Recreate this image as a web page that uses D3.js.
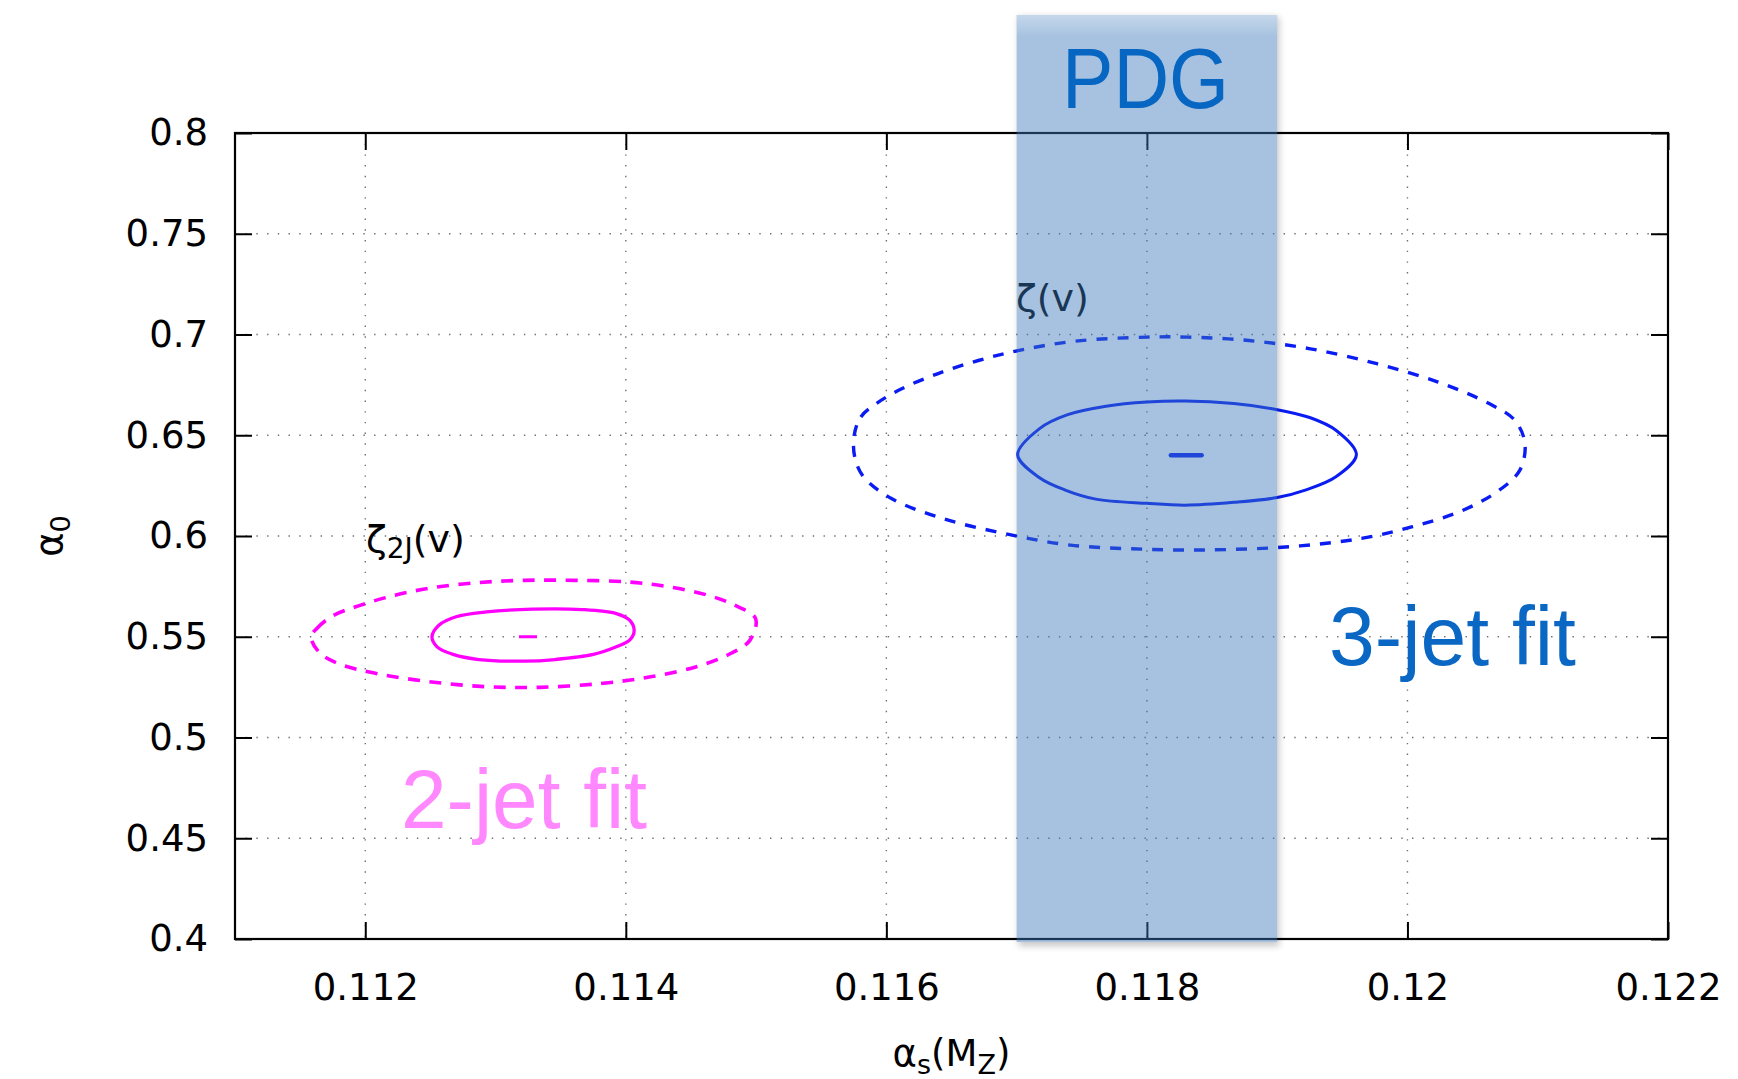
<!DOCTYPE html>
<html>
<head>
<meta charset="utf-8">
<script src="https://cdn.jsdelivr.net/npm/d3@7"></script>
<style>
  body { margin: 0; background: #fff; }
  svg { display: block; }
</style>
</head>
<body>
<svg id="chart" width="1738" height="1079"></svg>
<script>
// Axis ticks
const xTicks = [0.112, 0.114, 0.116, 0.118, 0.12, 0.122];
const yTicks = [0.4, 0.45, 0.5, 0.55, 0.6, 0.65, 0.7, 0.75, 0.8];
const xDomain = [0.111, 0.122];
const yDomain = [0.4, 0.8];

// PDG world-average band in alpha_s(M_Z)
const pdgBand = [0.117, 0.119];

// 3-jet fit, zeta(v): 1-sigma (solid) and 2-sigma (dashed) contours, [alpha_s, alpha_0]
const threeJetInner = [
  [0.117008, 0.6404], [0.117176, 0.6533], [0.117392, 0.6602], [0.117686, 0.6644],
  [0.118000, 0.6665], [0.118294, 0.6670], [0.118667, 0.6657], [0.119000, 0.6627],
  [0.119255, 0.6587], [0.119451, 0.6525], [0.119608, 0.6404], [0.119451, 0.6294],
  [0.119216, 0.6228], [0.119000, 0.6191], [0.118667, 0.6167], [0.118294, 0.6153],
  [0.118000, 0.6162], [0.117608, 0.6183], [0.117373, 0.6228], [0.117176, 0.6289]
];
const threeJetOuter = [
  [0.115753, 0.6500], [0.115804, 0.6591], [0.115922, 0.6657], [0.116118, 0.6731],
  [0.116392, 0.6805], [0.116706, 0.6871], [0.117020, 0.6921], [0.117451, 0.6967],
  [0.118000, 0.6987], [0.118314, 0.6987], [0.118784, 0.6970], [0.119255, 0.6929],
  [0.119765, 0.6855], [0.120235, 0.6764], [0.120627, 0.6657], [0.120824, 0.6574],
  [0.120902, 0.6459], [0.120863, 0.6327], [0.120706, 0.6228], [0.120431, 0.6129],
  [0.120039, 0.6046], [0.119647, 0.5988], [0.119098, 0.5947], [0.118471, 0.5931],
  [0.118000, 0.5934], [0.117412, 0.5955], [0.116902, 0.6013], [0.116431, 0.6087],
  [0.116039, 0.6186], [0.115824, 0.6294], [0.115757, 0.6393]
];
const threeJetBest = [[0.118184, 0.6401], [0.118420, 0.6401]];

// 2-jet fit, zeta_2J(v)
const twoJetInner = [
  [0.112512, 0.5500], [0.112565, 0.5557], [0.112697, 0.5599], [0.112931, 0.5623],
  [0.113283, 0.5637], [0.113663, 0.5635], [0.113927, 0.5615], [0.114029, 0.5582],
  [0.114064, 0.5529], [0.114029, 0.5483], [0.113927, 0.5450], [0.113751, 0.5412],
  [0.113458, 0.5387], [0.113224, 0.5379], [0.112873, 0.5387], [0.112668, 0.5414],
  [0.112551, 0.5450]
];
const twoJetOuter = [
  [0.111584, 0.5500], [0.111628, 0.5541], [0.111745, 0.5602], [0.111965, 0.5657],
  [0.112228, 0.5706], [0.112521, 0.5744], [0.112873, 0.5769], [0.113224, 0.5780],
  [0.113605, 0.5780], [0.114015, 0.5772], [0.114337, 0.5747], [0.114630, 0.5706],
  [0.114835, 0.5657], [0.114996, 0.5590], [0.114952, 0.5482], [0.114805, 0.5417],
  [0.114542, 0.5351], [0.114190, 0.5301], [0.113810, 0.5268], [0.113341, 0.5249],
  [0.112931, 0.5252], [0.112492, 0.5277], [0.112082, 0.5318], [0.111789, 0.5368],
  [0.111643, 0.5425]
];
const twoJetBest = [[0.113180, 0.5500], [0.113318, 0.5500]];

const W = 1738, H = 1079;
const plot = { left: 235, right: 1668, top: 133, bottom: 939 };
const TICK = 17;
const tickFont = "'DejaVu Sans', sans-serif";
const labelFont = "'Liberation Sans', Arial, sans-serif";

const svg = d3.select("#chart");
const x = d3.scaleLinear().domain(xDomain).range([plot.left, plot.right]);
const y = d3.scaleLinear().domain(yDomain).range([plot.bottom, plot.top]);

const defs = svg.append("defs");
const blur = defs.append("filter").attr("id", "soft")
  .attr("x", "-20%").attr("y", "-5%").attr("width", "140%").attr("height", "110%");
blur.append("feGaussianBlur").attr("stdDeviation", 3.5);

const bandX0 = x(pdgBand[0]), bandX1 = x(pdgBand[1]);
const bandTop = 15, bandBottom = plot.bottom + 3;

// clip so the band's shadow only shows outside the band
defs.append("clipPath").attr("id", "outsideBand")
  .append("path")
  .attr("clip-rule", "evenodd")
  .attr("d", `M0,0H${W}V${H}H0Z M${bandX0},${bandTop}H${bandX1}V${bandBottom}H${bandX0}Z`);

const sheen = defs.append("linearGradient").attr("id", "sheen")
  .attr("x1", 0).attr("y1", 0).attr("x2", 0).attr("y2", 1);
sheen.append("stop").attr("offset", "0%").attr("stop-color", "#fff").attr("stop-opacity", 0.35);
sheen.append("stop").attr("offset", "100%").attr("stop-color", "#fff").attr("stop-opacity", 0);

// dotted grid
const grid = svg.append("g").attr("stroke", "#6f6f6f").attr("stroke-width", 1.4)
  .attr("stroke-dasharray", "1.4,9.3");
grid.selectAll("line.gx")
  .data(xTicks.filter(d => d > xDomain[0] && d < xDomain[1]))
  .join("line")
  .attr("x1", d => x(d)).attr("x2", d => x(d))
  .attr("y1", y(yDomain[1])).attr("y2", y(yDomain[0]));
grid.selectAll("line.gy")
  .data(yTicks.filter(d => d > yDomain[0] && d < yDomain[1]))
  .join("line")
  .attr("y1", d => y(d)).attr("y2", d => y(d))
  .attr("x1", x(xDomain[0])).attr("x2", x(xDomain[1]));

// fit labels
svg.append("text").text("3-jet fit")
  .attr("x", 1329).attr("y", 665)
  .attr("textLength", 247).attr("lengthAdjust", "spacingAndGlyphs")
  .attr("font-family", labelFont).attr("font-size", 84).attr("fill", "#0a68c4");
svg.append("text").text("2-jet fit")
  .attr("x", 401).attr("y", 828)
  .attr("textLength", 246).attr("lengthAdjust", "spacingAndGlyphs")
  .attr("font-family", labelFont).attr("font-size", 84).attr("fill", "#ff88ff");

// observable labels
const z3 = svg.append("text").attr("x", 1016).attr("y", 311)
  .attr("font-family", tickFont).attr("font-size", 38).attr("fill", "#000");
z3.append("tspan").text("ζ(v)");

const z2 = svg.append("text").attr("x", 366).attr("y", 552)
  .attr("font-family", tickFont).attr("font-size", 38).attr("fill", "#000");
z2.append("tspan").text("ζ");
z2.append("tspan").text("2J").attr("font-size", 28).attr("dy", 6);
z2.append("tspan").text("(v)").attr("dy", -6);

// contours
const contour = d3.line().x(d => x(d[0])).y(d => y(d[1]))
  .curve(d3.curveCatmullRomClosed.alpha(0.5));
const seg = d3.line().x(d => x(d[0])).y(d => y(d[1]));

const contours = [
  { pts: threeJetOuter, color: "#0a1cf2", dash: "11,10", w: 3.4 },
  { pts: threeJetInner, color: "#0a1cf2", dash: null, w: 3.0 },
  { pts: twoJetOuter, color: "#ff00ff", dash: "12,9.5", w: 3.6 },
  { pts: twoJetInner, color: "#ff00ff", dash: null, w: 3.3 }
];
svg.append("g").selectAll("path").data(contours).join("path")
  .attr("d", d => contour(d.pts))
  .attr("fill", "none")
  .attr("stroke", d => d.color)
  .attr("stroke-width", d => d.w)
  .attr("stroke-dasharray", d => d.dash);

svg.append("path").attr("d", seg(threeJetBest))
  .attr("stroke", "#0a1cf2").attr("stroke-width", 4.5).attr("stroke-linecap", "round");
svg.append("path").attr("d", seg(twoJetBest))
  .attr("stroke", "#ff00ff").attr("stroke-width", 3);

// axes: ticks point inward on all four sides
const fx = d3.format(".3~f"), fy = d3.format(".2~f");
function styleAxis(g) {
  g.select(".domain").remove();
  g.selectAll(".tick line").attr("stroke", "#000").attr("stroke-width", 2);
  g.selectAll(".tick text").attr("font-family", tickFont).attr("font-size", 37).attr("fill", "#000");
}
svg.append("g").attr("transform", `translate(0,${plot.bottom})`)
  .call(d3.axisBottom(x).tickValues(xTicks).tickFormat(fx).tickSize(-TICK).tickSizeOuter(0).tickPadding(35))
  .call(styleAxis);
svg.append("g").attr("transform", `translate(0,${plot.top})`)
  .call(d3.axisTop(x).tickValues(xTicks).tickFormat("").tickSize(-TICK).tickSizeOuter(0))
  .call(styleAxis);
svg.append("g").attr("transform", `translate(${plot.left},0)`)
  .call(d3.axisLeft(y).tickValues(yTicks).tickFormat(fy).tickSize(-TICK).tickSizeOuter(0).tickPadding(27))
  .call(styleAxis);
svg.append("g").attr("transform", `translate(${plot.right},0)`)
  .call(d3.axisRight(y).tickValues(yTicks).tickFormat("").tickSize(-TICK).tickSizeOuter(0))
  .call(styleAxis);

svg.append("rect")
  .attr("x", plot.left).attr("y", plot.top)
  .attr("width", plot.right - plot.left).attr("height", plot.bottom - plot.top)
  .attr("fill", "none").attr("stroke", "#000").attr("stroke-width", 2.2);

// axis titles
const xt = svg.append("text").attr("x", (plot.left + plot.right) / 2).attr("y", 1066)
  .attr("text-anchor", "middle").attr("font-family", tickFont).attr("font-size", 37);
xt.append("tspan").text("α");
xt.append("tspan").text("s").attr("font-size", 27).attr("dy", 8);
xt.append("tspan").text("(M").attr("dy", -8);
xt.append("tspan").text("Z").attr("font-size", 27).attr("dy", 8);
xt.append("tspan").text(")").attr("dy", -8);

const yt = svg.append("text").attr("transform", "translate(62,536) rotate(-90)")
  .attr("text-anchor", "middle").attr("font-family", tickFont).attr("font-size", 37);
yt.append("tspan").text("α");
yt.append("tspan").text("0").attr("font-size", 27).attr("dy", 8);

// PDG band with soft shadow, drawn over the frame and contours
svg.append("rect")
  .attr("x", bandX0 + 2).attr("y", bandTop + 2)
  .attr("width", bandX1 - bandX0).attr("height", bandBottom - bandTop + 2)
  .attr("fill", "#000").attr("opacity", 0.22)
  .attr("filter", "url(#soft)").attr("clip-path", "url(#outsideBand)");
svg.append("rect")
  .attr("x", bandX0).attr("y", bandTop)
  .attr("width", bandX1 - bandX0).attr("height", bandBottom - bandTop)
  .attr("fill", "#3977ba").attr("fill-opacity", 0.45);
svg.append("rect")
  .attr("x", bandX0).attr("y", bandTop)
  .attr("width", bandX1 - bandX0).attr("height", 22)
  .attr("fill", "url(#sheen)");

svg.append("text").text("PDG")
  .attr("x", 1062).attr("y", 108)
  .attr("textLength", 167).attr("lengthAdjust", "spacingAndGlyphs")
  .attr("font-family", labelFont).attr("font-size", 86).attr("fill", "#0766c2");
</script>
</body>
</html>
